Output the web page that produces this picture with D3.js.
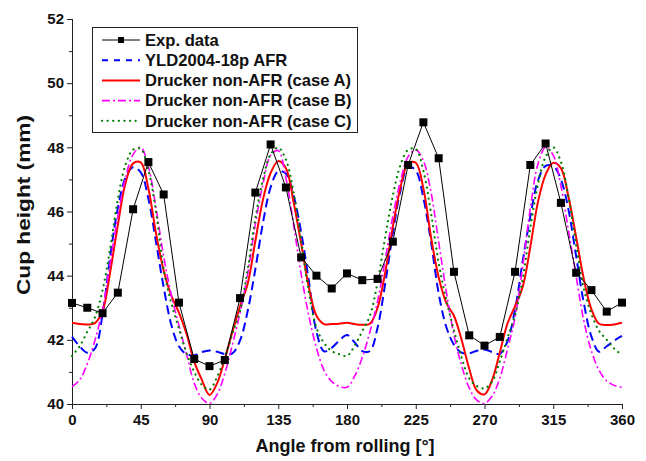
<!DOCTYPE html>
<html>
<head>
<meta charset="utf-8">
<script src="https://cdn.jsdelivr.net/npm/d3@7"></script>
<style>
  html, body { margin: 0; padding: 0; background: #fff; }
  svg { display: block; }
  text { font-family: "Liberation Sans", Arial, sans-serif; font-weight: bold; fill: #111; }
</style>
</head>
<body>
<svg id="chart" width="646" height="461"></svg>
<script>
// ---- data ----
const expAngles = d3.range(0, 361, 10);
const expValues = [43.15, 43.0, 42.83, 43.47, 46.07, 47.54, 46.53, 43.16, 41.40, 41.18,
                   41.37, 43.30, 46.59, 48.09, 46.75, 44.57, 44.0, 43.6, 44.07, 43.86,
                   43.9, 45.06, 47.45, 48.78, 47.66, 44.12, 42.14, 41.82, 42.09, 44.12,
                   47.45, 48.12, 46.27, 44.09, 43.55, 42.88, 43.16];

const modelAngles = d3.range(0, 361, 5);
const yldValues = [
  42.1, 41.8, 41.6, 41.73, 42.8, 44.6, 46.1, 47.05, 47.38, 47.22, 46.4, 45.05, 43.64, 42.47, 41.8, 41.55, 41.52, 41.62, 41.67,
  41.63, 41.56, 41.58, 41.98, 42.9, 44.2, 45.65, 46.75, 47.25, 47.18, 46.5, 45.35, 43.85, 42.25, 41.64, 41.75, 41.98, 42.15,
  41.92, 41.65, 41.65, 42.38, 43.75, 45.32, 46.65, 47.4, 47.28, 46.42, 45.05, 43.45, 42.4, 41.85, 41.6, 41.58, 41.66, 41.7,
  41.62, 41.56, 41.95, 42.95, 44.45, 45.85, 46.97, 47.42, 47.42, 47.0, 46.05, 44.6, 43.15, 42.1, 41.63, 41.8, 41.98, 42.12];
const caseAValues = [
  42.53, 42.49, 42.48, 42.52, 42.9, 44.12, 45.58, 46.88, 47.5, 47.53, 46.72, 45.32, 44.16, 43.38, 42.85, 42.18, 41.32, 40.75, 40.28,
  40.65, 41.4, 42.25, 43.05, 43.75, 45.08, 46.37, 47.2, 47.57, 47.35, 46.3, 45.0, 43.65, 42.75, 42.49, 42.49, 42.5, 42.53,
  42.49, 42.47, 42.5, 43.0, 44.1, 45.53, 46.75, 47.5, 47.52, 46.72, 45.2, 43.95, 43.15, 42.75, 42.0, 41.1, 40.42, 40.3,
  40.75, 41.6, 42.5, 43.05, 43.65, 44.9, 46.3, 47.15, 47.52, 47.35, 46.45, 45.2, 43.9, 42.95, 42.5, 42.46, 42.48, 42.53];
const caseBValues = [
  40.54, 40.75, 41.25, 41.98, 42.95, 44.4, 45.85, 47.05, 47.78, 48.0, 47.4, 46.1, 44.6, 43.4, 42.45, 41.55, 40.65, 40.18, 40.02,
  40.3, 40.95, 41.85, 42.85, 44.05, 45.6, 46.85, 47.75, 47.9, 47.05, 45.6, 44.05, 42.75, 41.75, 41.05, 40.7, 40.55, 40.52,
  40.87, 41.45, 42.25, 43.2, 44.5, 45.85, 46.95, 47.71, 47.92, 47.58, 46.6, 45.05, 43.5, 42.15, 41.2, 40.5, 40.12, 40.02,
  40.25, 40.8, 41.7, 42.7, 44.3, 46.1, 47.48, 48.0, 47.75, 46.8, 45.4, 43.98, 42.6, 41.65, 41.05, 40.72, 40.58, 40.52];
const caseCValues = [
  41.5, 41.8, 42.25, 42.7, 43.55, 44.85, 46.38, 47.45, 47.93, 47.95, 47.29, 46.0, 44.2, 43.15, 42.35, 41.58, 41.0, 40.6, 40.45,
  40.85, 41.45, 42.2, 42.9, 44.2, 45.78, 47.0, 47.78, 47.99, 47.62, 46.6, 45.1, 43.5, 42.38, 41.9, 41.65, 41.55, 41.5,
  41.82, 42.27, 42.75, 43.8, 45.2, 46.5, 47.45, 47.92, 47.95, 47.27, 45.95, 44.4, 43.25, 42.3, 41.45, 40.8, 40.56, 40.49,
  40.7, 41.33, 42.05, 42.78, 43.9, 45.5, 46.86, 47.7, 48.0, 47.55, 46.45, 44.95, 43.6, 42.8, 42.28, 42.0, 41.72, 41.53];

const xTicks = [0, 45, 90, 135, 180, 225, 270, 315, 360];
const yTicks = [40, 42, 44, 46, 48, 50, 52];
const legendLabels = ["Exp. data", "YLD2004-18p AFR", "Drucker non-AFR (case A)",
                      "Drucker non-AFR (case B)", "Drucker non-AFR (case C)"];
const seriesColors = ["#000000", "#0000ff", "#ff0000", "#ff00ff", "#008000"];

// ---- layout ----
const svg = d3.select("#chart");
const x = d3.scaleLinear().domain([0, 360]).range([72, 622]);
const y = d3.scaleLinear().domain([40, 52]).range([404, 19]);

const styles = [
  {color: seriesColors[0], width: 1, dash: null},
  {color: seriesColors[1], width: 2, dash: "9,5"},
  {color: seriesColors[2], width: 2, dash: null},
  {color: seriesColors[3], width: 1.6, dash: "8,3,2,3"},
  {color: seriesColors[4], width: 2.2, dash: "0.1,5.5", cap: "round"}
];

// axes
const xAxis = d3.axisBottom(x).tickValues(xTicks).tickSize(5).tickPadding(5).tickFormat(d3.format("d"));
const xMinor = d3.axisBottom(x).tickValues(d3.range(22.5, 360, 45)).tickSize(3).tickFormat("");
const yAxis = d3.axisLeft(y).tickValues(yTicks).tickSize(5).tickPadding(3).tickFormat(d3.format("d"));
const yMinor = d3.axisLeft(y).tickValues(d3.range(41, 52, 2)).tickSize(3).tickFormat("");

function styleAxis(g) {
  g.selectAll("path.domain").attr("stroke", "#222").attr("stroke-width", 1);
  g.selectAll("line").attr("stroke", "#222").attr("stroke-width", 1);
  g.selectAll("text").attr("font-size", 15).attr("font-family", "'Liberation Sans', Arial, sans-serif")
    .attr("font-weight", "bold").attr("fill", "#111");
}
svg.append("g").attr("transform", "translate(0,404)").call(xMinor).call(styleAxis);
svg.append("g").attr("transform", "translate(0,404)").call(xAxis).call(styleAxis);
svg.append("g").attr("transform", "translate(72,0)").call(yMinor).call(styleAxis);
svg.append("g").attr("transform", "translate(72,0)").call(yAxis).call(styleAxis);

// axis titles
svg.append("text").attr("x", 345).attr("y", 452).attr("text-anchor", "middle")
  .attr("font-size", 18).text("Angle from rolling [°]");
svg.append("text").attr("transform", "translate(29.5,205) rotate(-90)").attr("text-anchor", "middle")
  .attr("font-size", 19).attr("textLength", 180).attr("lengthAdjust", "spacingAndGlyphs")
  .text("Cup height (mm)");

// model curves
const smooth = d3.line().x(d => x(d[0])).y(d => y(d[1])).curve(d3.curveCatmullRom.alpha(0.5));
const modelSeries = [
  {vals: yldValues, s: styles[1]},
  {vals: caseAValues, s: styles[2]},
  {vals: caseBValues, s: styles[3]},
  {vals: caseCValues, s: styles[4]}
];
modelSeries.forEach(m => {
  svg.append("path")
    .datum(modelAngles.map((a, i) => [a, m.vals[i]]))
    .attr("d", smooth)
    .attr("fill", "none")
    .attr("stroke", m.s.color)
    .attr("stroke-width", m.s.width)
    .attr("stroke-dasharray", m.s.dash)
    .attr("stroke-linecap", m.s.cap || "butt");
});

// experimental data
const expData = expAngles.map((a, i) => [a, expValues[i]]);
svg.append("path").datum(expData)
  .attr("d", d3.line().x(d => x(d[0])).y(d => y(d[1])))
  .attr("fill", "none").attr("stroke", "#000").attr("stroke-width", 1);
svg.selectAll("rect.pt").data(expData).enter().append("rect")
  .attr("class", "pt")
  .attr("x", d => x(d[0]) - 4).attr("y", d => y(d[1]) - 4)
  .attr("width", 8).attr("height", 8).attr("fill", "#000");

// legend
const lg = svg.append("g");
lg.append("rect").attr("x", 92.5).attr("y", 27.5).attr("width", 265).attr("height", 105)
  .attr("fill", "#fff").attr("stroke", "#222").attr("stroke-width", 1);
legendLabels.forEach((lab, i) => {
  const cy = 40 + i * 20.2;
  const s = styles[i];
  lg.append("line").attr("x1", 102).attr("x2", 140).attr("y1", cy).attr("y2", cy)
    .attr("stroke", s.color).attr("stroke-width", s.width)
    .attr("stroke-dasharray", i === 1 ? "6,6" : s.dash)
    .attr("stroke-linecap", s.cap || "butt");
  if (i === 0) {
    lg.append("rect").attr("x", 118).attr("y", cy - 3).attr("width", 6).attr("height", 6).attr("fill", "#000");
  }
  lg.append("text").attr("x", 145).attr("y", cy + 5.8).attr("font-size", 16.6).text(lab);
});
</script>
</body>
</html>
